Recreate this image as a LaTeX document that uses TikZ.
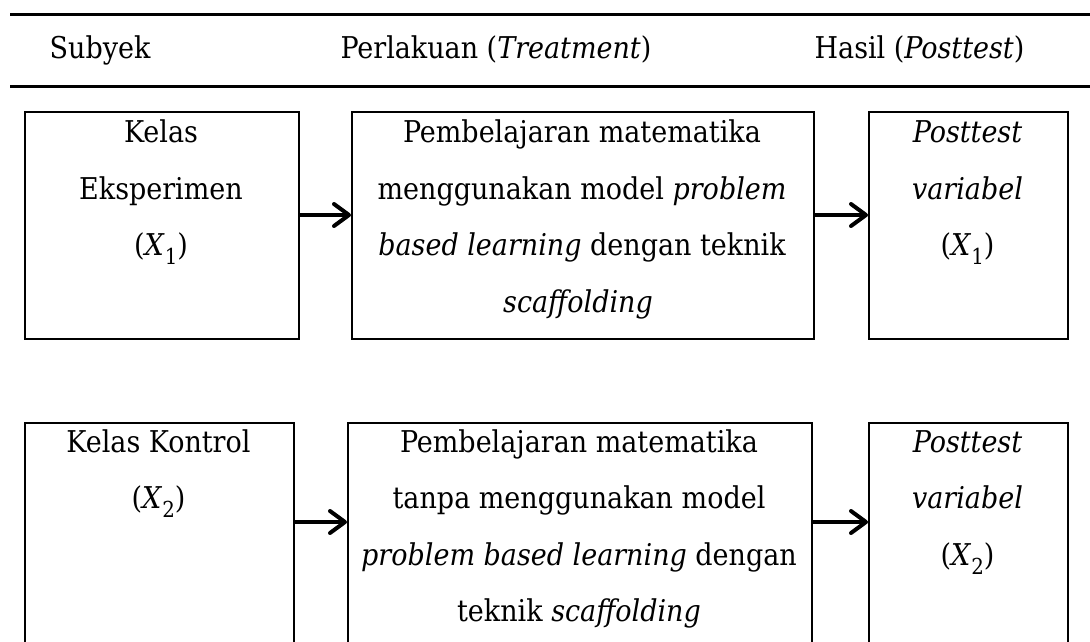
\documentclass[tikz,border=0pt]{standalone}
\usepackage{fontspec}
\setmainfont{DejaVu Serif Condensed}
\usetikzlibrary{arrows.meta}
\newcommand{\subx}[1]{(\textit{X}\raisebox{-0.3em}{\fontsize{22}{22}\selectfont #1})}
\begin{document}
\begin{tikzpicture}[x=1pt,y=-1pt,
  box/.style={draw, line width=2pt, anchor=north west, inner sep=0pt},
  txt/.style={anchor=base, inner sep=0pt, font=\fontsize{30}{35}\selectfont},
  rule/.style={line width=3pt},
  arr/.style={line width=4pt, -{Straight Barb[length=15pt,width=22pt,round]}}]
\useasboundingbox (0,0) rectangle (1090,641);
\clip (0,0) rectangle (1090,641);
% header rules
\coordinate (r1a) at (10,14); \coordinate (r1b) at (1095,14);
\coordinate (r2a) at (10,86); \coordinate (r2b) at (1095,86);
\draw[rule] (r1a) -- (r1b);
\draw[rule] (r2a) -- (r2b);
% headers
\node[txt] (h1) at (100,58) {Subyek};
\node[txt] (h2) at (496,58) {Perlakuan (\textit{Treatment})};
\node[txt] (h3) at (919.5,58) {Hasil (\textit{Posttest})};
% row 1 boxes
\node[box, minimum width=274, minimum height=227] (a1) at (24,111) {};
\node[box, minimum width=462, minimum height=227] (a2) at (351,111) {};
\node[box, minimum width=199, minimum height=227] (a3) at (868,111) {};
% row 2 boxes
\node[box, minimum width=269, minimum height=260] (b1) at (24,422) {};
\node[box, minimum width=464, minimum height=260] (b2) at (347,422) {};
\node[box, minimum width=199, minimum height=260] (b3) at (868,422) {};
% row 1 texts
\node[txt] (a1l1) at (161,142.5) {Kelas};
\node[txt] (a1l2) at (161,199) {Eksperimen};
\node[txt] (a1l3) at (161,255.5) {\subx{1}};
\node[txt] (a2l1) at (582,142.5) {Pembelajaran matematika};
\node[txt] (a2l2) at (582,199) {menggunakan model \textit{problem}};
\node[txt] (a2l3) at (582,255.5) {\textit{based learning} dengan teknik};
\node[txt] (a2l4) at (578,312) {\textit{scaffolding}};
\node[txt] (a3l1) at (967.5,142.5) {\textit{Posttest}};
\node[txt] (a3l2) at (967.5,199) {\textit{variabel}};
\node[txt] (a3l3) at (967.5,255.5) {\subx{1}};
% row 2 texts
\node[txt] (b1l1) at (158.5,452) {Kelas Kontrol};
\node[txt] (b1l2) at (158.5,508.5) {\subx{2}};
\node[txt] (b2l1) at (579,452) {Pembelajaran matematika};
\node[txt] (b2l2) at (579,508.5) {tanpa menggunakan model};
\node[txt] (b2l3) at (579,565) {\textit{problem based learning} dengan};
\node[txt] (b2l4) at (579,621.5) {teknik \textit{scaffolding}};
\node[txt] (b3l1) at (967.5,452) {\textit{Posttest}};
\node[txt] (b3l2) at (967.5,508.5) {\textit{variabel}};
\node[txt] (b3l3) at (967.5,565) {\subx{2}};
% arrows
\coordinate (ya) at (0,215);
\coordinate (yb) at (0,522);
\draw[arr] (a1.east |- ya) -- (a2.west |- ya);
\draw[arr] (a2.east |- ya) -- (a3.west |- ya);
\draw[arr] (b1.east |- yb) -- (b2.west |- yb);
\draw[arr] (b2.east |- yb) -- (b3.west |- yb);
\end{tikzpicture}
\end{document}
